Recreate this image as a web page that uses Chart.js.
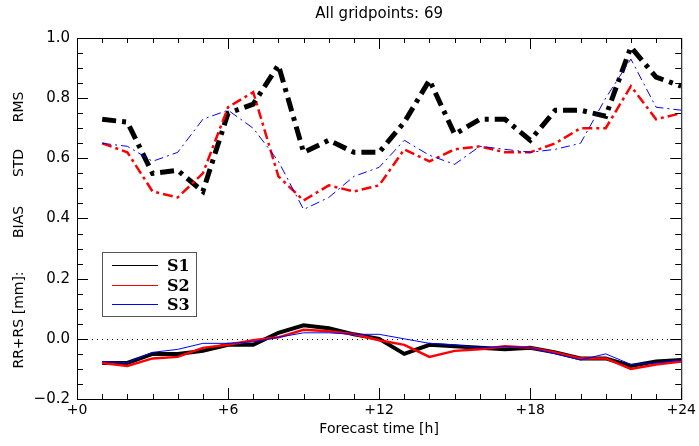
<!DOCTYPE html>
<html>
<head>
<meta charset="utf-8">
<script src="https://cdn.jsdelivr.net/npm/chart.js@4.4.1/dist/chart.umd.min.js"></script>
<style>
  html, body { margin: 0; padding: 0; background: #fff; }
  #wrap { width: 699px; height: 446px; }
</style>
</head>
<body>
<div id="wrap"><canvas id="chart" width="699" height="446"></canvas></div>
<script>
// forecast hours
const hours = [1, 2, 3, 4, 5, 6, 7, 8, 9, 10, 11, 12, 13, 14, 15, 16, 17, 18, 19, 20, 21, 22, 23, 24];

// upper curves (dash-dot)
const s1Upper = [0.73, 0.72, 0.55, 0.56, 0.49, 0.75, 0.78, 0.91, 0.62, 0.66, 0.62, 0.62, 0.72, 0.86, 0.68, 0.73, 0.73, 0.66, 0.76, 0.76, 0.74, 0.97, 0.87, 0.84];
const s2Upper = [0.65, 0.62, 0.49, 0.47, 0.55, 0.77, 0.82, 0.54, 0.46, 0.51, 0.49, 0.51, 0.63, 0.59, 0.63, 0.64, 0.62, 0.62, 0.65, 0.70, 0.70, 0.84, 0.73, 0.75];
const s3Upper = [0.65, 0.64, 0.59, 0.62, 0.73, 0.76, 0.70, 0.59, 0.43, 0.47, 0.54, 0.57, 0.66, 0.61, 0.58, 0.64, 0.63, 0.62, 0.63, 0.65, 0.80, 0.93, 0.77, 0.76];

// bias curves (solid)
const s1Bias = [-0.08, -0.08, -0.05, -0.05, -0.04, -0.02, -0.02, 0.02, 0.045, 0.035, 0.015, 0.0, -0.05, -0.02, -0.025, -0.03, -0.035, -0.03, -0.045, -0.065, -0.065, -0.09, -0.075, -0.07];
const s2Bias = [-0.08, -0.09, -0.065, -0.06, -0.03, -0.02, -0.005, 0.005, 0.03, 0.025, 0.015, -0.005, -0.02, -0.06, -0.04, -0.035, -0.025, -0.03, -0.045, -0.065, -0.065, -0.10, -0.085, -0.075];
const s3Bias = [-0.075, -0.08, -0.045, -0.035, -0.015, -0.015, -0.01, 0.005, 0.02, 0.02, 0.015, 0.015, 0.0, -0.015, -0.02, -0.03, -0.025, -0.03, -0.05, -0.07, -0.05, -0.085, -0.08, -0.07];

const seriesNames = ['S1', 'S2', 'S3'];
const seriesColors = ['#000000', '#ff0000', '#0000ff'];

const toPoints = (vals) => vals.map((v, i) => ({ x: hours[i], y: v }));

const FONT = 'DejaVu Sans';

// inward ticks on all four sides + frame + zero line
const frameTicks = {
  id: 'frameTicks',
  beforeDatasetsDraw(chart) {
    const { ctx, chartArea: a, scales: { y } } = chart;
    const y0 = Math.round(y.getPixelForValue(0)) + 0.5;
    ctx.save();
    ctx.strokeStyle = '#000';
    ctx.lineWidth = 1;
    ctx.setLineDash([1, 4]);
    ctx.beginPath();
    ctx.moveTo(a.left, y0);
    ctx.lineTo(a.right, y0);
    ctx.stroke();
    ctx.restore();
  },
  afterDatasetsDraw(chart) {
    const { ctx, chartArea: a, scales: { x, y } } = chart;
    ctx.save();
    ctx.strokeStyle = '#000';
    ctx.lineWidth = 1;
    ctx.strokeRect(a.left + 0.5, a.top + 0.5, a.right - a.left, a.bottom - a.top);
    ctx.beginPath();
    for (let h = 0; h <= 24; h++) {
      const px = Math.round(x.getPixelForValue(h)) + 0.5;
      const len = h % 6 === 0 ? 11 : 5;
      ctx.moveTo(px, a.bottom); ctx.lineTo(px, a.bottom - len);
      ctx.moveTo(px, a.top); ctx.lineTo(px, a.top + len);
    }
    for (let k = -4; k <= 20; k++) {
      const py = Math.round(y.getPixelForValue(k * 0.05)) + 0.5;
      const len = k % 4 === 0 ? 11 : 6;
      ctx.moveTo(a.left, py); ctx.lineTo(a.left + len, py);
      ctx.moveTo(a.right, py); ctx.lineTo(a.right - len, py);
    }
    ctx.stroke();
    ctx.restore();
  }
};

// legend box inside the plot
const boxLegend = {
  id: 'boxLegend',
  afterDraw(chart) {
    const { ctx } = chart;
    ctx.save();
    ctx.strokeStyle = '#555';
    ctx.lineWidth = 1;
    ctx.strokeRect(102.5, 252.5, 94, 64);
    ctx.font = 'bold 16px "DejaVu Serif"';
    ctx.textBaseline = 'middle';
    ctx.fillStyle = '#000';
    seriesNames.forEach((name, i) => {
      const ly = Math.round(265 + i * 19.5) + 0.5;
      ctx.strokeStyle = seriesColors[i];
      ctx.beginPath();
      ctx.moveTo(112, ly);
      ctx.lineTo(158, ly);
      ctx.stroke();
      ctx.fillText(name, 167, ly + 1);
    });
    ctx.restore();
  }
};

// y axis title pieces
const yTitle = {
  id: 'yTitle',
  afterDraw(chart) {
    const { ctx } = chart;
    const parts = [['RMS', 107], ['STD', 163], ['BIAS', 222], ['RR+RS [mm]:', 320]];
    ctx.save();
    ctx.font = '14px "' + FONT + '"';
    ctx.fillStyle = '#000';
    ctx.textAlign = 'center';
    ctx.textBaseline = 'middle';
    parts.forEach(([txt, py]) => {
      ctx.save();
      ctx.translate(19, py);
      ctx.rotate(-Math.PI / 2);
      ctx.fillText(txt, 0, 0);
      ctx.restore();
    });
    ctx.restore();
  }
};

const upperStyle = [
  { width: 5, dash: [14, 6, 4, 6] },
  { width: 2.5, dash: [10, 4, 3, 4] },
  { width: 1, dash: [9, 4, 2, 4] }
];
const biasWidth = [4, 2.5, 1];
const biasData = [s1Bias, s2Bias, s3Bias];
const upperData = [s1Upper, s2Upper, s3Upper];

const datasets = [];
[0, 1, 2].forEach(i => {
  datasets.push({
    label: seriesNames[i] + ' STD/RMS',
    data: toPoints(upperData[i]),
    borderColor: seriesColors[i],
    borderWidth: upperStyle[i].width,
    borderDash: upperStyle[i].dash,
    pointRadius: 0,
    tension: 0,
    order: 3 - i
  });
});
[0, 1, 2].forEach(i => {
  datasets.push({
    label: seriesNames[i] + ' BIAS',
    data: toPoints(biasData[i]),
    borderColor: seriesColors[i],
    borderWidth: biasWidth[i],
    pointRadius: 0,
    tension: 0,
    order: 3 - i
  });
});

new Chart(document.getElementById('chart'), {
  type: 'line',
  data: { datasets },
  options: {
    responsive: false,
    devicePixelRatio: 1,
    animation: false,
    layout: { padding: { top: 0, right: 13, left: 0, bottom: 0 } },
    plugins: {
      legend: { display: false },
      tooltip: { enabled: false },
      title: {
        display: true,
        fullSize: false,
        text: 'All gridpoints: 69',
        color: '#000',
        font: { family: FONT, size: 15, weight: 'normal' },
        padding: { top: 5, bottom: 15 }
      }
    },
    scales: {
      x: {
        type: 'linear',
        min: 0,
        max: 24,
        grid: { display: false, drawTicks: false },
        border: { display: false },
        ticks: {
          stepSize: 1,
          autoSkip: false,
          maxRotation: 0,
          color: '#000',
          padding: 3,
          font: { family: FONT, size: 14 },
          callback: (v) => (v % 6 === 0 ? '+' + v : '')
        },
        title: {
          display: true,
          text: 'Forecast time [h]',
          color: '#000',
          font: { family: FONT, size: 14 },
          padding: { top: 2, bottom: 8 }
        },
        afterFit: (s) => { s.height = 47; }
      },
      y: {
        min: -0.2,
        max: 1.0,
        grid: { display: false, drawTicks: false },
        border: { display: false },
        ticks: {
          stepSize: 0.05,
          autoSkip: false,
          color: '#000',
          padding: 7,
          font: { family: FONT, size: 15 },
          callback: (v) => {
            const k = Math.round(v * 100);
            if (k % 20 !== 0) return '';
            return (k < 0 ? '\u2212' : '') + Math.abs(k / 100).toFixed(1);
          }
        },
        afterFit: (s) => { s.width = 77; }
      }
    }
  },
  plugins: [frameTicks, boxLegend, yTitle]
});
</script>
</body>
</html>
